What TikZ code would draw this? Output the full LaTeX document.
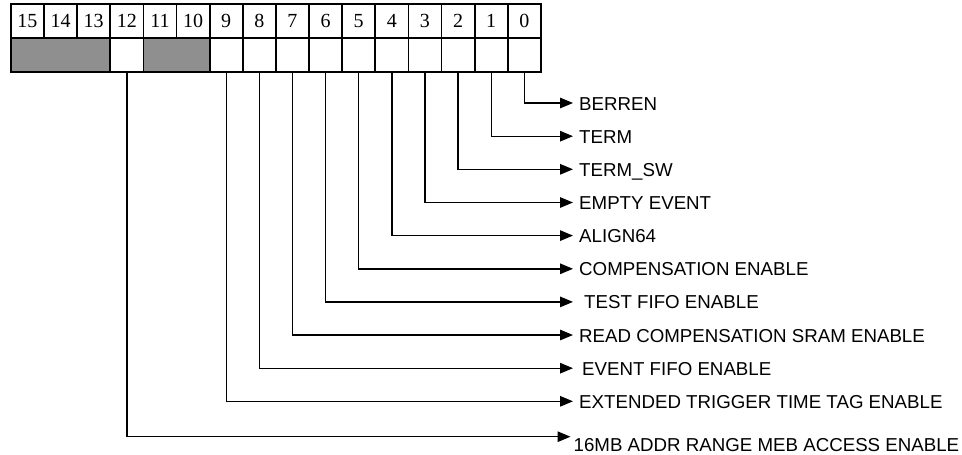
\documentclass[tikz,border=0pt]{standalone}
\usepackage{fontspec}
\setmainfont{Liberation Serif}
\newfontfamily\lsans{Liberation Sans}
\usetikzlibrary{arrows.meta}
\definecolor{cellgray}{RGB}{143,143,143}
\begin{document}
\begin{tikzpicture}[x=1pt,y=-1pt,
  numcell/.style={draw, line width=1.8pt, minimum width=33.125pt, minimum height=34pt, inner sep=0pt, anchor=north west, font=\fontsize{20}{20}\selectfont},
  valcell/.style={draw, line width=1.8pt, fill=white, minimum width=33.125pt, minimum height=34pt, inner sep=0pt, anchor=north west},
  graycell/.style={draw, line width=1.8pt, fill=cellgray, minimum height=34pt, inner sep=0pt, anchor=north west},
  conn/.style={line width=1.4pt, -{Triangle[length=13pt,width=10.5pt]}},
  lbl/.style={anchor=base west, inner sep=0pt, font=\lsans\fontsize{18.7}{18.7}\selectfont}
]
\useasboundingbox (0,0) rectangle (962,455);
% top row: bit numbers
\foreach \i in {0,...,15} {
  \pgfmathsetmacro\xx{10+(15-\i)*33.125}
  \node[numcell] (b\i) at (\xx,3) {\i};
}
% bottom row
\node[graycell, minimum width=99.375pt] (g1) at (10,37) {};
\node[graycell, minimum width=66.25pt] (g2) at (142.5,37) {};
\foreach \i in {0,...,9,12} {
  \pgfmathsetmacro\xx{10+(15-\i)*33.125}
  \node[valcell] (v\i) at (\xx,37) {};
}
% connectors and labels
\foreach \i/\y/\ex/\lx/\ty/\t in {
  0/103/573/579/110/BERREN,
  1/136.2/573/579/143.2/TERM,
  2/169.3/573/579/176.3/TERM\_SW,
  3/202.5/573/579/209.5/EMPTY EVENT,
  4/235.6/573/579/242.6/ALIGN64,
  5/268.8/573/579/275.8/COMPENSATION ENABLE,
  6/301.9/573/584/308.9/TEST FIFO ENABLE,
  7/335/573/579/342/READ COMPENSATION SRAM ENABLE,
  8/368.2/573/582/375.2/EVENT FIFO ENABLE,
  9/401.3/573/579/408.3/EXTENDED TRIGGER TIME TAG ENABLE,
  12/436.7/570.5/573.5/451/16MB ADDR RANGE MEB ACCESS ENABLE} {
  \coordinate (e\i) at (\ex,\y);
  \node[lbl] (l\i) at (\lx,\ty) {\t};
  \draw[conn] (v\i.south) |- (e\i);
}
\end{tikzpicture}
\end{document}
